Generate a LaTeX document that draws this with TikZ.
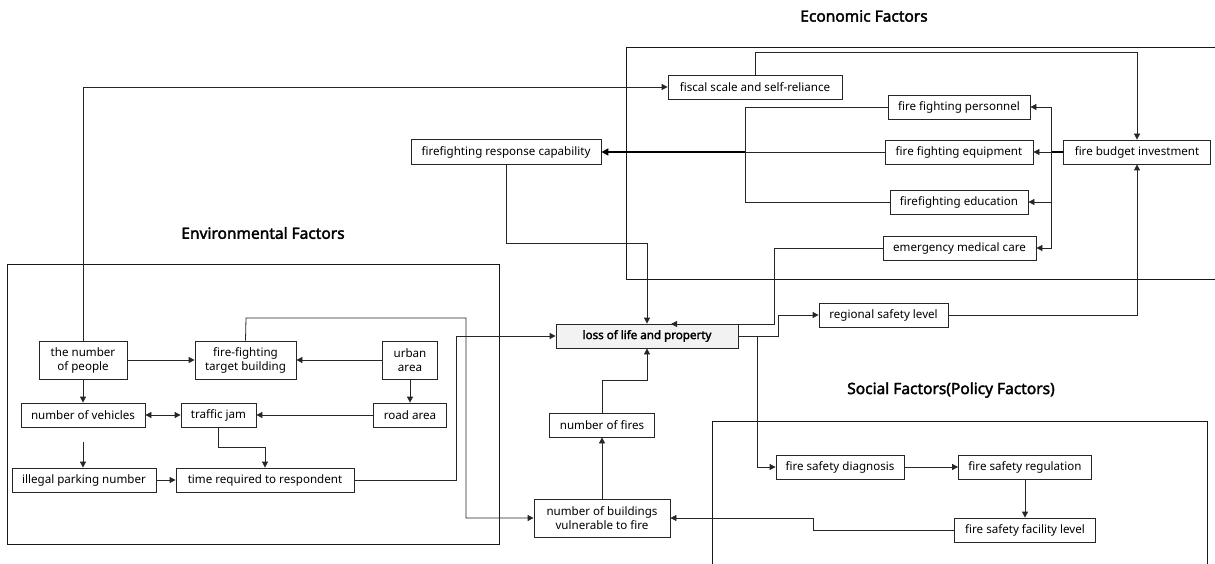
\documentclass[tikz,border=0pt]{standalone}
\usepackage{fontspec}
\setmainfont{Noto Sans}
\newfontfamily\heavyfont{Noto Sans}[FakeBold=2.2]
\usetikzlibrary{arrows.meta,calc}
\begin{document}
\begin{tikzpicture}[x=1pt,y=-1pt,
  box/.style={draw=black!85, line width=0.8pt, fill=white, inner sep=0pt,
    font=\fontsize{11.6}{14}\selectfont, align=center},
  conn/.style={draw=black!85, line width=0.8pt},
  thickconn/.style={draw=black, line width=1.6pt},
  arr/.style={conn, -{Triangle[length=6pt,width=6pt]}},
  thickarr/.style={thickconn, -{Triangle[length=7pt,width=7pt]}},
  dblarr/.style={conn, {Triangle[length=6pt,width=6pt]}-{Triangle[length=6pt,width=6pt]}},
  grouptitle/.style={font=\heavyfont\fontsize{15.5}{18}\selectfont},
  frame/.style={draw=black!90, line width=0.9pt}]
\useasboundingbox (0,0) rectangle (1215,564);
\clip (0,0) rectangle (1215,564);

% group frames
\draw[frame] (7,264) rectangle (499,544);
\draw[frame] (1220,47) -- (626,47) -- (626,279) -- (1220,279);
\draw[frame] (712,570) -- (712,421) -- (1207,421) -- (1207,570);

% titles
\node[grouptitle] (tEco) at (864,16) {Economic Factors};
\node[grouptitle] (tEnv) at (263,233) {Environmental Factors};
\node[grouptitle] (tSoc) at (951,390) {Social Factors(Policy Factors)};

% economic nodes
\node[box, minimum width=174pt, minimum height=24pt] (fiscal) at (755,87) {fiscal scale and self-reliance};
\node[box, minimum width=142pt, minimum height=24pt] (personnel) at (959,107) {fire fighting personnel};
\node[box, minimum width=148pt, minimum height=24pt] (equipment) at (959,152) {fire fighting equipment};
\node[box, minimum width=138pt, minimum height=24pt] (education) at (959,202) {firefighting education};
\node[box, minimum width=153pt, minimum height=24pt] (emergency) at (959.5,248) {emergency medical care};
\node[box, minimum width=147pt, minimum height=24pt] (budget) at (1137,152) {fire budget investment};
\node[box, minimum width=190pt, minimum height=25pt] (response) at (506,152) {firefighting response capability};

% central nodes
\node[box, fill=black!5, minimum width=182pt, minimum height=24pt, font=\heavyfont\fontsize{11.6}{14}\selectfont] (loss) at (647,336) {loss of life and property};
\node[box, minimum width=129pt, minimum height=24pt] (regional) at (883.5,315) {regional safety level};
\node[box, minimum width=105pt, minimum height=24pt] (fires) at (602,425) {number of fires};
\node[box, minimum width=136pt, minimum height=38pt] (buildings) at (602,518) {number of buildings\\vulnerable to fire};

% social nodes
\node[box, minimum width=128pt, minimum height=24pt] (diagnosis) at (840,467) {fire safety diagnosis};
\node[box, minimum width=133pt, minimum height=24pt] (regulation) at (1025,467) {fire safety regulation};
\node[box, minimum width=141pt, minimum height=24pt] (facility) at (1025,530) {fire safety facility level};

% environmental nodes
\node[box, minimum width=88pt, minimum height=38pt] (people) at (83,360) {the number\\of people};
\node[box, minimum width=101pt, minimum height=38pt] (target) at (245.5,360) {fire-fighting\\target building};
\node[box, minimum width=55pt, minimum height=38pt] (urban) at (410,360) {urban\\area};
\node[box, minimum width=124pt, minimum height=24pt] (vehicles) at (83,415) {number of vehicles};
\node[box, minimum width=75pt, minimum height=24pt] (jam) at (218.5,415) {traffic jam};
\node[box, minimum width=73pt, minimum height=24pt] (road) at (410,415) {road area};
\node[box, minimum width=144pt, minimum height=24pt] (illegal) at (84,480) {illegal parking number};
\node[box, minimum width=178pt, minimum height=24pt] (time) at (265,480) {time required to respondent};

% helper coordinates
\coordinate (yTop) at (0,52);
\coordinate (busR) at (1051,152);
\coordinate (busL) at (745,152);
\coordinate (yResp) at (0,243);
\coordinate (emcCorner) at (774,324);
\coordinate (emcEnd) at (671,324);
\coordinate (lossRight) at (778,336);
\coordinate (lossBranch) at (757,336);
\coordinate (facCorner) at (813,518);
\coordinate (yFires) at (0,380);
\coordinate (timeCorner) at (456,336);
\coordinate (tgtA) at (246,318);
\coordinate (tgtB) at (466,318);
\coordinate (jamY) at (0,447);

% economic connectors
\draw[arr] (people.north) |- (fiscal.west);
\draw[arr] (fiscal.north) -- (fiscal.north |- yTop) -| (budget.north);
\draw[thickconn] (budget.west) -- (busR);
\draw[arr] (busR) |- (personnel.east);
\draw[arr] (busR) -- (equipment.east);
\draw[arr] (busR) |- (education.east);
\draw[arr] (busR) |- (emergency.east);
\draw[conn] (personnel.west) -| (busL);
\draw[conn] (education.west) -| (busL);
\draw[conn] (equipment.west) -- (busL);
\draw[thickarr] (busL) -- (response.east);
\draw[arr] (response.south) -- (response.south |- yResp) -| (loss.north);
\draw[arr] (emergency.west) -| (emcCorner) -- (emcEnd);

% central connectors
\draw[arr] (loss.east) -- (lossRight) |- (regional.west);
\draw[arr] (loss.east) -- (lossBranch) |- (diagnosis.west);
\draw[arr] (regional.east) -| (budget.south);
\draw[arr] (diagnosis.east) -- (regulation.west);
\draw[arr] (regulation.south) -- (facility.north);
\draw[arr] (facility.west) -| (facCorner) -- (buildings.east);
\draw[arr] (buildings.north) -- (fires.south);
\draw[arr] (fires.north) -- (fires.north |- yFires) -| (loss.south);

% environmental connectors
\draw[arr] (time.east) -| (timeCorner) -- (loss.west);
\draw[arr] (target.north) -- (tgtA) -- (tgtB) |- (buildings.west);
\draw[arr] (people.east) -- (target.west);
\draw[arr] (urban.west) -- (target.east);
\draw[arr] (people.south) -- (vehicles.north);
\draw[arr] (urban.south) -- (road.north);
\draw[dblarr] (vehicles.east) -- (jam.west);
\draw[arr] (road.west) -- (jam.east);
\draw[arr, shorten <=15pt] (vehicles.south) -- (vehicles.south |- illegal.north);
\draw[arr] (jam.south) -- (jam.south |- jamY) -| (time.north);
\draw[arr] (illegal.east) -- (time.west);
\end{tikzpicture}
\end{document}
